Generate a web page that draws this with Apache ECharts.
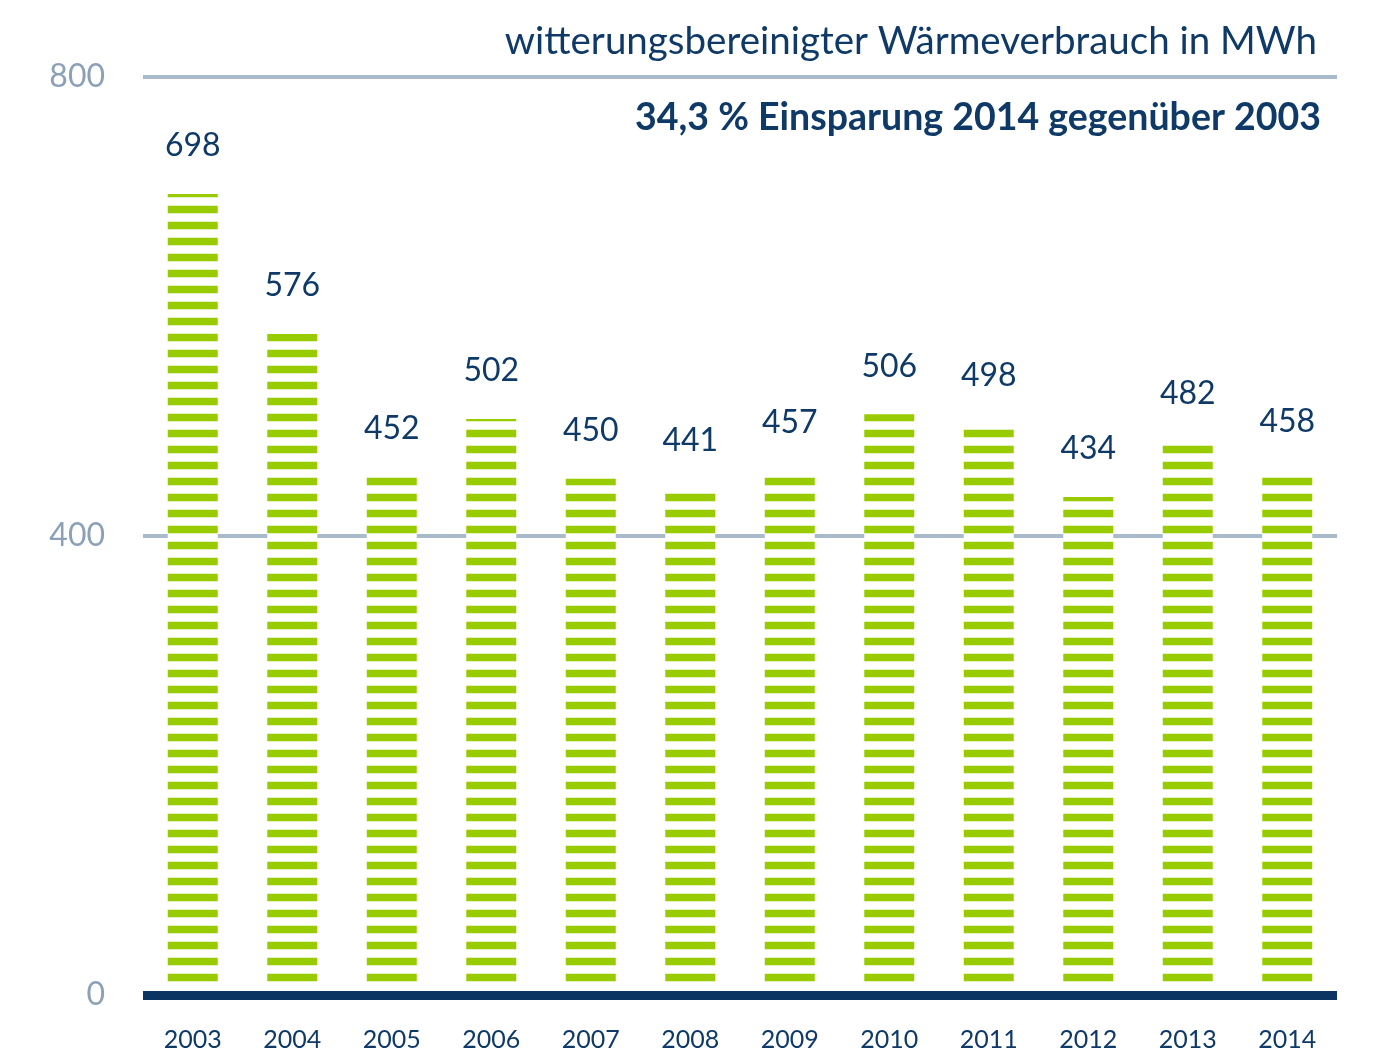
<!DOCTYPE html>
<html>
<head>
<meta charset="utf-8">
<script src="https://cdn.jsdelivr.net/npm/echarts@6/dist/echarts.min.js"></script>
<style>
html,body{margin:0;padding:0;background:#fff;}
#chart{width:1376px;height:1049px;}
</style>
</head>
<body>
<div id="chart"></div>
<script>
const years = ['2003','2004','2005','2006','2007','2008','2009','2010','2011','2012','2013','2014'];
const values = [698, 576, 452, 502, 450, 441, 457, 506, 498, 434, 482, 458];
const yTicks = [0, 400, 800];
const titleText = 'witterungsbereinigter Wärmeverbrauch in MWh';
const subtitleText = '34,3 % Einsparung 2014 gegenüber 2003';

const navy = '#0f3a68';
const green = '#99cc00';
const font = 'Lato, "Open Sans", sans-serif';
const BAR_W = 50, STRIPE_H = 7.6, STRIPE_PERIOD = 16, STRIPE_SHIFT = 2.3;

function renderStripes(params, api) {
  const idx = api.value(0);
  const val = api.value(1);
  const base = api.coord([idx, 0]);
  const top = api.coord([idx, val]);
  const x = base[0] - BAR_W / 2;
  const children = [];
  // first stripe sits hidden under the thick base line; start with the one above it
  for (let b = base[1] + STRIPE_SHIFT - STRIPE_PERIOD; b > top[1]; b -= STRIPE_PERIOD) {
    const y0 = Math.max(b - STRIPE_H, top[1]);
    children.push({
      type: 'rect',
      shape: {x: x, y: y0, width: BAR_W, height: b - y0},
      style: {fill: green}
    });
  }
  return {type: 'group', children: children};
}

const chart = echarts.init(document.getElementById('chart'), null, {renderer: 'canvas'});
chart.setOption({
  animation: false,
  backgroundColor: '#fff',
  title: [
    {text: titleText, right: 59, top: 22, padding: 0,
     textStyle: {fontFamily: font, fontSize: 38.5, fontWeight: 'normal', color: navy}},
    {text: subtitleText, right: 55, top: 99, padding: 0,
     textStyle: {fontFamily: font, fontSize: 37.5, fontWeight: 'bold', color: navy}}
  ],
  grid: {left: 143, right: 39, top: 77, bottom: 54, containLabel: false, outerBoundsMode: 'none'},
  xAxis: {
    type: 'category',
    data: years,
    z: 10,
    axisLine: {show: true, lineStyle: {color: '#0b3463', width: 9, cap: 'butt'}},
    axisTick: {show: false},
    axisLabel: {color: navy, fontFamily: font, fontSize: 25, margin: 32}
  },
  yAxis: {
    type: 'value',
    min: yTicks[0],
    max: yTicks[yTicks.length - 1],
    interval: yTicks[1] - yTicks[0],
    axisLine: {show: false},
    axisTick: {show: false},
    axisLabel: {color: '#8ca1b8', fontFamily: font, fontSize: 32, margin: 38,
                verticalAlign: 'middle', padding: [8, 0, 0, 0]},
    splitLine: {show: true, lineStyle: {color: '#a9bacb', width: 4}}
  },
  series: [
    {
      type: 'bar',
      data: values,
      barWidth: BAR_W,
      itemStyle: {color: '#ffffff'},
      z: 2,
      label: {show: true, position: 'top', distance: 32, color: navy,
              fontFamily: font, fontSize: 32, formatter: '{c}'}
    },
    {
      type: 'custom',
      data: values.map((v, i) => [i, v]),
      renderItem: renderStripes,
      encode: {x: 0, y: 1},
      z: 3,
      silent: true
    }
  ]
});
</script>
</body>
</html>
